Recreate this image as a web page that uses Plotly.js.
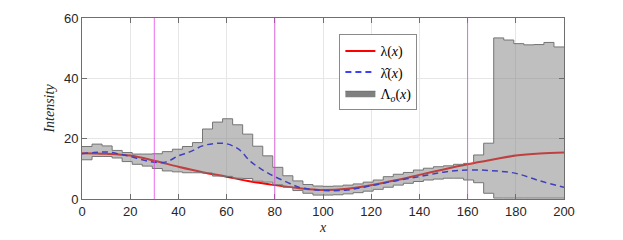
<!DOCTYPE html>
<html>
<head>
<meta charset="utf-8">
<script src="https://cdn.plot.ly/plotly-3.0.1.min.js"></script>
<style>html,body{margin:0;padding:0;background:#fff;}#chart{width:623px;height:240px;}</style>
</head>
<body>
<div id="chart"></div>
<script>
// ---- data ----
const xMax = 200;
const nBins = 48;
// band Λo(x): upper and lower step values per bin
const bandUpper = [17.4,18.2,17.6,16.1,15.4,14.9,14.9,15.0,15.7,16.5,17.4,18.7,23.2,25.5,26.6,24.6,21.5,17.5,14.3,10.5,7.7,6.0,4.8,4.3,4.2,4.3,4.6,5.0,5.6,6.3,7.4,8.2,8.8,9.6,10.2,10.7,11.0,11.5,11.8,14.6,18.5,53.4,52.7,51.5,51.1,51.2,51.9,50.4];
const bandLower = [13.0,14.1,14.1,13.6,12.4,11.5,10.9,10.1,9.3,9.0,8.7,8.7,8.6,7.6,7.5,6.9,6.8,5.9,5.6,4.7,3.9,2.8,1.9,1.3,1.3,1.4,1.7,2.1,2.6,3.2,3.9,4.6,5.2,5.8,6.3,6.6,6.9,6.9,6.3,5.4,1.9,0.3,0.3,0.3,0.3,0.3,0.3,0.3];
// true intensity λ(x)
const lamX = [0,10,20,30,40,50,60,70,80,90,100,110,120,130,140,150,160,170,180,190,200];
const lamY = [15.2,15.0,14.4,12.7,10.7,8.9,7.4,5.8,4.6,3.6,3.0,3.4,4.6,6.2,8.0,9.8,11.5,13.0,14.4,15.1,15.4];
// estimated intensity λ̂(x)
const estX = [0,5,10,15,20,25,30,35,40,45,50,55,60,65,70,75,80,85,90,95,100,110,120,130,140,150,160,170,180,190,200];
const estY = [15.0,15.4,15.6,15.0,14.1,13.0,12.2,12.3,14.3,15.7,17.6,18.4,18.3,16.5,12.4,9.6,7.4,5.6,3.9,3.2,2.8,3.0,4.4,6.0,7.4,8.9,9.6,9.4,8.5,6.0,3.9];
// vertical marker lines
const markerX = [30, 80, 160];
const xTicks = [0,20,40,60,80,100,120,140,160,180,200];
const yTicks = [0,20,40,60];

// ---- build ----
const edges = [];
for (let i = 0; i <= nBins; i++) edges.push(i * xMax / nBins);
const upStep = bandUpper.concat([bandUpper[bandUpper.length-1]]);
const loStep = bandLower.concat([bandLower[bandLower.length-1]]);

const serif = 'Liberation Serif';
const bandEdge = '#747474';
const traces = [
  {x: lamX, y: lamY, type: 'scatter', mode: 'lines', name: 'λ(<i>x</i>)',
   line: {color: 'red', width: 2, shape: 'spline'}},
  {x: estX, y: estY, type: 'scatter', mode: 'lines', name: 'λ\u0302(<i>x</i>)',
   line: {color: 'blue', width: 1.5, dash: '6px,4px', shape: 'spline'}},
  {x: [-50,-40,-40,-50], y: [-50,-50,-40,-40], type: 'scatter', mode: 'lines', fill: 'toself',
   fillcolor: '#808080', line: {color: '#6a6a6a', width: 1}, name: 'Λ<sub><i>o</i></sub>(<i>x</i>)'},
  {x: edges, y: loStep, type: 'scatter', mode: 'lines', showlegend: false,
   line: {color: bandEdge, width: 1, shape: 'hv'}, hoverinfo: 'skip'},
  {x: edges, y: upStep, type: 'scatter', mode: 'lines', showlegend: false, fill: 'tonexty',
   fillcolor: 'rgba(128,128,128,0.5)', line: {color: bandEdge, width: 1, shape: 'hv'}, hoverinfo: 'skip'}
];

const shapes = markerX.map(v => ({type: 'line', xref: 'x', yref: 'paper', x0: v, x1: v, y0: 0, y1: 1,
  line: {color: 'rgba(225,60,225,0.75)', width: 1}, layer: 'above'}));

const axisCommon = {
  showline: true, linecolor: '#6e6e6e', linewidth: 1, mirror: 'ticks',
  ticks: 'inside', ticklen: 5, tickcolor: '#6e6e6e', tickwidth: 1,
  showgrid: true, gridcolor: '#e6e6e6', gridwidth: 1, zeroline: false,
  tickfont: {family: 'Liberation Sans', size: 13, color: '#262626'}
};

const layout = {
  width: 623, height: 240,
  margin: {l: 82, r: 59, t: 18, b: 41},
  paper_bgcolor: '#fff', plot_bgcolor: '#fff',
  showlegend: true,
  legend: {x: 0.534, y: 0.91, xanchor: 'left', yanchor: 'top', bgcolor: '#fff', traceorder: 'normal',
    bordercolor: '#8a8a8a', borderwidth: 1, itemwidth: 30, tracegroupgap: 0,
    font: {family: serif, size: 14, color: '#000'}},
  xaxis: Object.assign({}, axisCommon, {range: [0, xMax], tickvals: xTicks, ticktext: xTicks.map(String),
    title: {text: '<i>x</i>', standoff: 4, font: {family: serif, size: 14, color: '#262626'}}}),
  yaxis: Object.assign({}, axisCommon, {range: [0, 60], tickvals: yTicks, ticktext: yTicks.map(String),
    title: {text: '<i>Intensity</i>', standoff: 6, font: {family: serif, size: 14, color: '#262626'}}}),
  shapes: shapes
};

Plotly.newPlot('chart', traces, layout, {displayModeBar: false, staticPlot: true});
</script>
</body>
</html>
